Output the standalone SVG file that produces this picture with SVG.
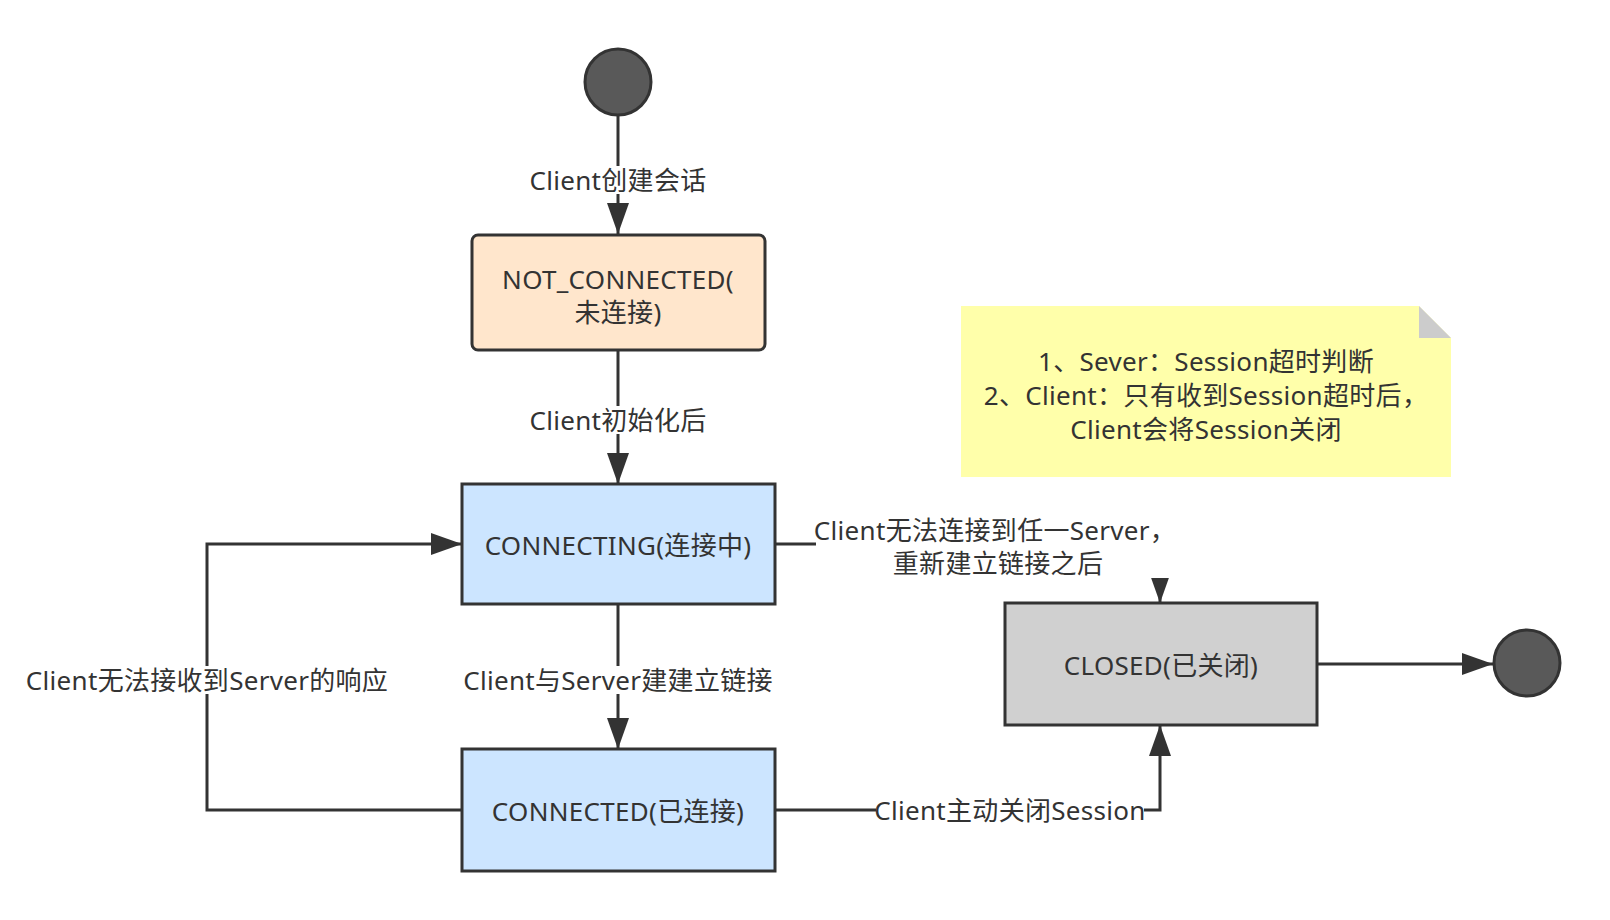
<svg xmlns="http://www.w3.org/2000/svg" width="1610" height="920" viewBox="0 0 1610 920">
<defs>
<style>
text{font-family:"Noto Sans","Noto Sans CJK SC",sans-serif;font-size:26px;fill:#333;text-anchor:middle;dominant-baseline:central;letter-spacing:0.3px}
.edge{fill:none;stroke:#333;stroke-width:3}
.box{stroke:#333;stroke-width:3}
.lbg{fill:#fff}
.dot{fill:#595959;stroke:#333;stroke-width:3}
</style>
<marker id="arr" viewBox="0 0 31 22" refX="31" refY="11" markerWidth="31" markerHeight="22" markerUnits="userSpaceOnUse" orient="auto">
<path d="M0,0 L31,11 L0,22 z" fill="#333"/>
</marker>
</defs>
<rect width="1610" height="920" fill="#fff"/>

<g id="connectors">
<path class="edge" d="M618,116 L618,234" marker-end="url(#arr)"/>
<path class="edge" d="M618,350 L618,484" marker-end="url(#arr)"/>
<path class="edge" d="M618,604 L618,749" marker-end="url(#arr)"/>
<path class="edge" d="M462,810 L207,810 L207,544 L462,544" marker-end="url(#arr)"/>
<path class="edge" d="M775,544 L1160,544 L1160,603" marker-end="url(#arr)"/>
<path class="edge" d="M775,810 L1160,810 L1160,725" marker-end="url(#arr)"/>
<path class="edge" d="M1317,664 L1493,664" marker-end="url(#arr)"/>
<g id="edge-labels">
<rect class="lbg" x="528" y="166" width="180" height="28"/>
<text x="618" y="180">Client创建会话</text>
<rect class="lbg" x="528" y="406" width="180" height="28"/>
<text x="618" y="420">Client初始化后</text>
<rect class="lbg" x="462" y="666" width="312" height="28"/>
<text x="618" y="680">Client与Server建建立链接</text>
<rect class="lbg" x="26" y="666" width="362" height="28"/>
<text x="207" y="680">Client无法接收到Server的响应</text>
<rect class="lbg" x="816" y="514" width="358" height="64"/>
<text x="995" y="530">Client无法连接到任一Server，</text>
<text x="998" y="563">重新建立链接之后</text>
<rect class="lbg" x="876" y="796" width="268" height="28"/>
<text x="1010" y="810">Client主动关闭Session</text>
</g>
</g>

<g id="start">
<circle class="dot" cx="618" cy="82" r="33"/>
</g>

<g id="not-connected">
<rect class="box" x="472" y="235" width="293" height="115" rx="6" fill="#FFE6CC"/>
<text x="618" y="279">NOT_CONNECTED(</text>
<text x="618" y="312">未连接)</text>
</g>

<g id="connecting">
<rect class="box" x="462" y="484" width="313" height="120" fill="#CCE5FF"/>
<text x="618" y="545">CONNECTING(连接中)</text>
</g>

<g id="connected">
<rect class="box" x="462" y="749" width="313" height="122" fill="#CCE5FF"/>
<text x="618" y="811">CONNECTED(已连接)</text>
</g>

<g id="closed">
<rect class="box" x="1005" y="603" width="312" height="122" fill="#D0D0D0"/>
<text x="1161" y="665">CLOSED(已关闭)</text>
</g>

<g id="end">
<circle class="dot" cx="1527" cy="663" r="33"/>
</g>

<g id="note">
<polygon points="961,306 1419,306 1451,338 1451,477 961,477" fill="#FFFFAA"/>
<polygon points="1419,306 1451,338 1419,338" fill="#CCCCCC"/>
<text x="1206" y="361">1、Sever：Session超时判断</text>
<text x="1206" y="395">2、Client：只有收到Session超时后，</text>
<text x="1206" y="429">Client会将Session关闭</text>
</g>
</svg>
